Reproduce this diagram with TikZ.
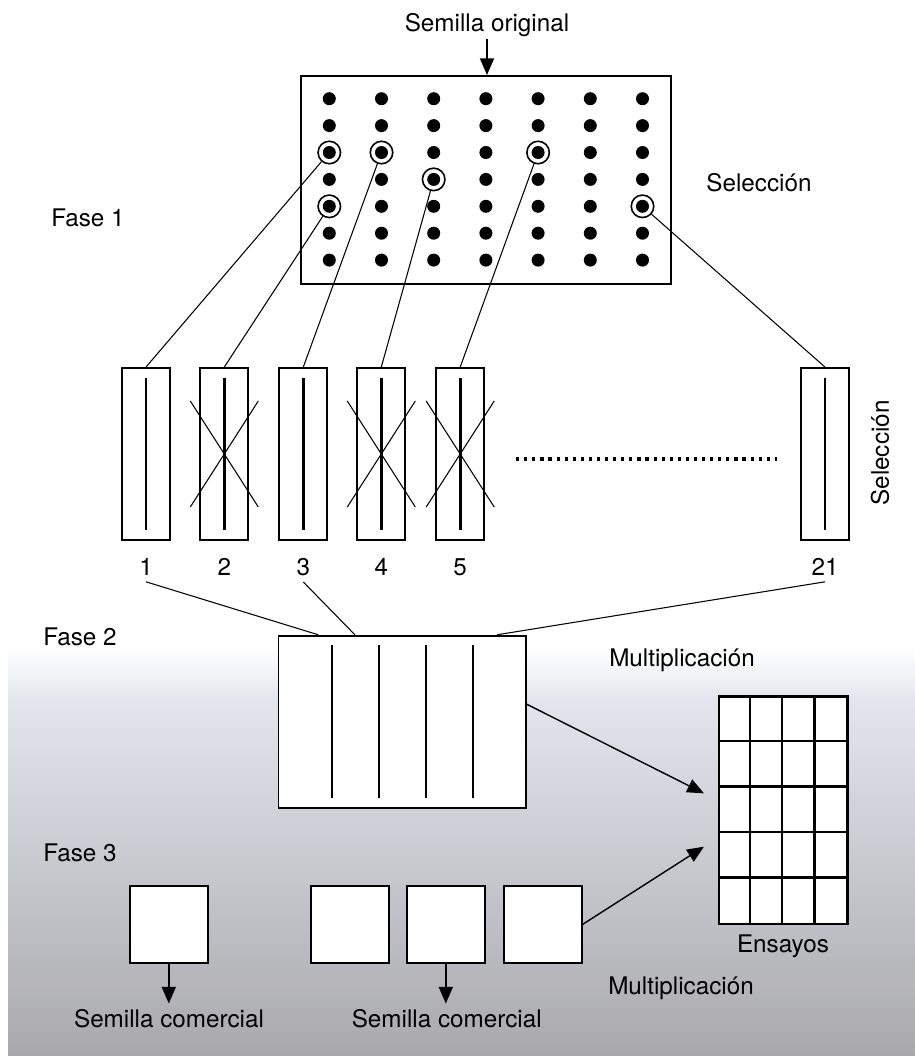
\documentclass[tikz,border=0pt]{standalone}
\usepackage{fontspec}
\setmainfont{TeX Gyre Heros}
\usetikzlibrary{positioning,arrows.meta,calc}
\definecolor{bgtop}{HTML}{E3E5ED}
\definecolor{bgbot}{HTML}{A9A9AD}

\begin{document}
\begin{tikzpicture}[x=0.02cm, y=-0.02cm,
    lbl/.style={font=\fontsize{13.8}{16}\selectfont},
    box/.style={draw, line width=1.1pt, fill=white, inner sep=0pt},
    conn/.style={line width=0.6pt},
    arr/.style={line width=0.8pt, -{Triangle[length=9.5pt,width=8pt]}},
    seed/.style={line width=1.5pt}]
  \useasboundingbox (0,0) rectangle (915,1056);
  % background band
  \shade[top color=white, bottom color=bgtop] (8,648) rectangle (915,700);
  \shade[top color=bgtop, bottom color=bgbot] (8,700) rectangle (915,1056);

  % Fase 1: field plot
  \node[lbl, inner sep=1pt] (orig) at (487,25) {Semilla original};
  \node[box, minimum width=7.4cm, minimum height=4.16cm] (plot) at (486,180) {};
  \draw[arr] (orig.south) -- (orig.south |- plot.north);
  \foreach \i in {0,...,6}
    \foreach \j in {0,...,6}
      \fill (329.3+52.2*\i, 98.7+26.9*\j) circle (0.13cm);
  \foreach \n/\i/\j in {s1/0/2, s2/0/4, s3/1/2, s4/2/3, s5/4/2, s21/6/4}
    \node[draw, circle, line width=0.9pt, minimum size=0.45cm, inner sep=0pt] (\n) at (329.3+52.2*\i, 98.7+26.9*\j) {};
  \node[lbl] (sel) at (759,183) {Selección};
  \node[lbl] (fase1) at (88,218) {Fase 1};

  % progeny rows
  \foreach \n/\x in {1/146, 2/224.3, 3/303.3, 4/381.3, 5/460.2, 21/825} {
    \node[box, minimum width=0.96cm, minimum height=3.44cm] (l\n) at (\x,454) {};
    \draw[seed] ($(l\n.north)+(0,11)$) -- ($(l\n.south)-(0,11)$);
    \node[lbl] (n\n) at (\x,567) {\n};
    \draw[conn] (s\n) -- (l\n.north);
  }
  \foreach \n in {2,4,5}
    \draw[conn] ($(l\n.center)+(-34,-53)$) -- ($(l\n.center)+(34,53)$)
                ($(l\n.center)+(34,-53)$) -- ($(l\n.center)+(-34,53)$);
  \draw[line width=1.8pt, dash pattern=on 1.8pt off 2.8pt] ($(l5.east)+(31,5)$) -- ($(l21.west)+(-23,5)$);
  \node[lbl, rotate=90] (selv) at (880,453) {Selección};

  % Fase 2
  \node[lbl] (fase2) at (80,637) {Fase 2};
  \node[box, minimum width=4.95cm, minimum height=3.44cm] (mult) at (402.2,721.7) {};
  \foreach \dx in {-70.5,-23.5,23.5,70.5}
    \draw[seed, line width=1.2pt] ($(mult.north)+(\dx,10.3)$) -- ($(mult.south)+(\dx,-11)$);
  \draw[conn] (n1.south) -- ($(mult.north west)+(40.7,0)$);
  \draw[conn] (n3.south) -- ($(mult.north west)+(77.4,0)$);
  \draw[conn] (n21.south) -- ($(mult.north west)+(219.7,0)$);
  \node[lbl] (mult1) at (682,660) {Multiplicación};

  % Ensayos grid
  \node[box, line width=1.3pt, minimum width=2.57cm, minimum height=4.55cm] (ens) at (783.3,810.3) {};
  \foreach \k in {1,2,3}
    \draw[line width=1.3pt] ($(ens.north west)+(32.2*\k,0)$) -- ($(ens.south west)+(32.2*\k,0)$);
  \foreach \k in {1,...,4}
    \draw[line width=1.3pt] ($(ens.north west)+(0,45.5*\k)$) -- ($(ens.north east)+(0,45.5*\k)$);
  \node[lbl] (enslbl) at (783,946) {Ensayos};
  \draw[arr] ($(mult.east)+(0,-17.4)$) -- ($(ens.west)+(-14,-17)$);

  % Fase 3
  \node[lbl] (fase3) at (80,853) {Fase 3};
  \foreach \n/\x in {a/168.8, b/350, c/445.8, d/542.8}
    \node[box, minimum width=1.56cm, minimum height=1.53cm] (f\n) at (\x,924.3) {};
  \node[lbl] (com1) at (169,1019) {Semilla comercial};
  \node[lbl] (com2) at (446.7,1019) {Semilla comercial};
  \draw[arr] (fa.south) -- (fa.south |- com1.north);
  \draw[arr] (fc.south) -- (fc.south |- com2.north);
  \draw[arr] (fd.east) -- ($(ens.west)+(-14,36.4)$);
  \node[lbl] (mult2) at (681,988) {Multiplicación};
\end{tikzpicture}
\end{document}
